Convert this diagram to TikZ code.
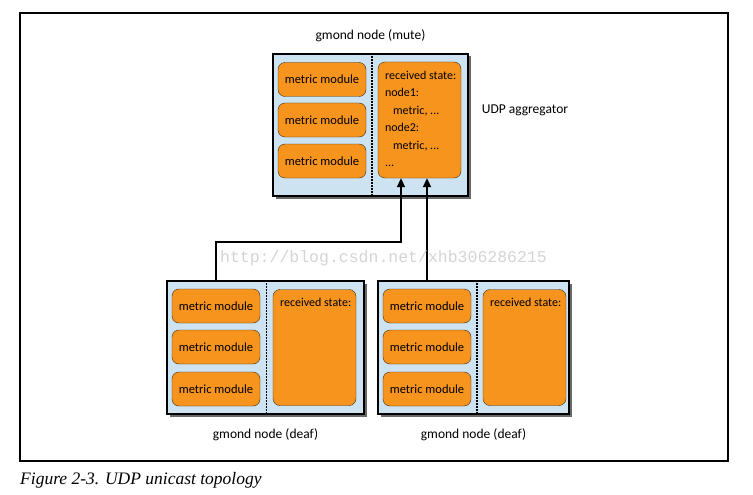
\documentclass[tikz,border=0pt]{standalone}
\usepackage{fontspec}
\setmainfont{Carlito}
\newfontfamily\capfont{Liberation Serif}
\newfontfamily\wmfont{Liberation Mono}
\usetikzlibrary{positioning,arrows.meta,calc,shadows}
\definecolor{gBlue}{HTML}{CDE3F1}
\definecolor{gOrange}{HTML}{F7941E}
\definecolor{gEdge}{HTML}{3A2A1A}
\newcommand{\mmod}[3]{%
 \node[draw=gEdge, fill=gOrange, rounded corners=7pt, minimum width=88pt, minimum height=34pt, font=\fontsize{12.5}{14}\selectfont] (#1) at (#2,#3) {metric module};}

\begin{document}
\begin{tikzpicture}[x=1pt,y=-1pt,
 host/.style={draw=black, line width=1.3pt, fill=gBlue, drop shadow={shadow xshift=2.5pt, shadow yshift=-2.5pt, fill=black!65, opacity=.9}},
 recv/.style={draw=gEdge, fill=gOrange, rounded corners=7pt, minimum width=83pt, minimum height=116pt},
 txt/.style={font=\fontsize{12}{17.5}\selectfont, align=left, anchor=north west, inner sep=0pt},
 tag/.style={font=\fontsize{13.5}{15}\selectfont, inner sep=0pt},
 divider/.style={dash pattern=on 1.6pt off 1.4pt, line width=1.6pt},
 flow/.style={line width=2pt, -{Triangle[length=9pt,width=8pt]}}]
\useasboundingbox (0,0) rectangle (753,495);
\draw[line width=1.2pt] (20,13) rectangle (728,461);

% aggregator (mute)
\node[host, minimum width=195pt, minimum height=142pt] (mute) at (370.5,125) {};
\mmod{m1}{322}{79.5}
\mmod{m2}{322}{120}
\mmod{m3}{322}{161}
\node[recv] (r0) at (419.5,120) {};
\node[txt] (r0t) at ([shift={(7,9)}]r0.north west) {received state:\\node1:\\\hspace*{8pt}metric, ...\\node2:\\\hspace*{8pt}metric, ...\\...};
\coordinate (s0) at ($(m1.east)!.5!(r0.west)$);
\draw[divider] (s0 |- mute.north) -- (s0 |- mute.south);
\node[tag, above=11pt of mute] (mutet) {gmond node (mute)};
\node[tag, anchor=west] (agg) at ([xshift=13pt, yshift=15pt]mute.east) {UDP aggregator};

% deaf nodes
\node[host, minimum width=197pt, minimum height=133pt] (d1) at (265.5,347.5) {};
\mmod{m4}{216}{306}
\mmod{m5}{216}{347}
\mmod{m6}{216}{389}
\node[recv] (r1) at (314.5,347.5) {};
\node[txt] (r1t) at ([shift={(7,9)}]r1.north west) {received state:};
\coordinate (s1) at ($(m4.east)!.5!(r1.west)$);
\draw[divider] (s1 |- d1.north) -- (s1 |- d1.south);
\node[tag, below=14pt of d1] (d1t) {gmond node (deaf)};

\node[host, minimum width=191pt, minimum height=133pt] (d2) at (473.5,347.5) {};
\mmod{m7}{427}{306}
\mmod{m8}{427}{347}
\mmod{m9}{427}{389}
\node[recv] (r2) at (524.5,347.5) {};
\node[txt] (r2t) at ([shift={(7,9)}]r2.north west) {received state:};
\coordinate (s2) at ($(m7.east)!.5!(r2.west)$);
\draw[divider] (s2 |- d2.north) -- (s2 |- d2.south);
\node[tag, below=14pt of d2] (d2t) {gmond node (deaf)};

% unicast links
\coordinate (bend) at (401,242);
\draw[flow] (m4 |- d1.north) |- (bend) -- (bend |- r0.south);
\draw[flow] (m7 |- d2.north) -- (m7 |- r0.south);

\node[font=\wmfont\fontsize{16.5}{18}\selectfont, text=black!17, inner sep=0pt] (wm) at (383.5,258) {http://blog.csdn.net/xhb306286215};
\node[font=\capfont\itshape\fontsize{17.5}{19}\selectfont, anchor=west, inner sep=0pt] (cap) at (20,480) {Figure 2-3. UDP unicast topology};
\end{tikzpicture}
\end{document}
